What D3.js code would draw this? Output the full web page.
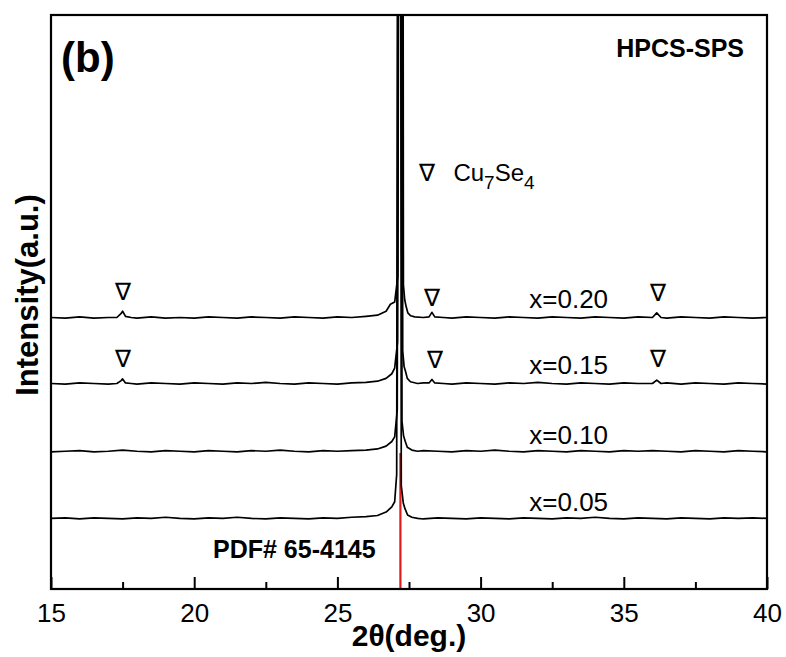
<!DOCTYPE html>
<html>
<head>
  <meta charset="utf-8">
  <title>XRD HPCS-SPS</title>
  <script src="https://cdn.jsdelivr.net/npm/d3@7"></script>
  <style>
    body { margin: 0; background: #fff; }
    text { font-family: Arial, "Liberation Sans", sans-serif; }
  </style>
</head>
<body>
<div id="chart"></div>
<script>
  // compositions, stacked bottom to top
  var samples = ['x=0.05', 'x=0.10', 'x=0.15', 'x=0.20'];
  var offsets = [120, 237, 355, 470];

  // [2theta, counts] (main peak runs off the top)
  var x005 = [[15,3],[15.5,4],[16,2],[16.5,4],[17,3],[17.5,2],[18,4],[18.5,3],[19,5],[19.5,3],[20,2],[20.5,4],[21,3],[21.5,5],[22,3],[22.5,2],[23,4],[23.5,3],[24,2],[24.5,4],[25,3],[25.5,5],[26,6],[26.4,8],[26.7,14],[26.9,23],[27.0,32],[27.07,80],[27.1,1100],[27.21,1100],[27.23,60],[27.3,30],[27.36,20],[27.45,9],[27.6,5],[27.8,3],[28,2],[28.5,4],[29,3],[29.5,2],[30,4],[30.5,3],[31,2],[31.5,4],[32,3],[32.5,2],[33,4],[33.5,3],[34,5],[34.5,3],[35,2],[35.5,4],[36,3],[36.5,2],[37,4],[37.5,3],[38,2],[38.5,4],[39,3],[39.5,4],[40,3]];
  var x010 = [[15,2],[15.5,3],[16,4],[16.5,2],[17,3],[17.5,5],[18,3],[18.5,2],[19,4],[19.5,3],[20,2],[20.5,4],[21,3],[21.5,2],[22,4],[22.5,3],[23,5],[23.5,3],[24,2],[24.5,4],[25,3],[25.5,4],[26,5],[26.4,7],[26.7,12],[26.9,20],[27.0,28],[27.09,75],[27.12,1100],[27.235,1100],[27.255,55],[27.31,30],[27.37,20],[27.44,10],[27.6,5],[27.8,3],[28,4],[28.5,3],[29,2],[29.5,4],[30,3],[30.5,5],[31,3],[31.5,2],[32,4],[32.5,3],[33,2],[33.5,4],[34,3],[34.5,2],[35,4],[35.5,3],[36,4],[36.5,3],[37,2],[37.5,4],[38,3],[38.5,2],[39,4],[39.5,3],[40,2]];
  var x015 = [[15,3],[15.5,2],[16,4],[16.5,3],[17,2],[17.3,3],[17.45,8],[17.5,11],[17.6,4],[17.8,3],[18,2],[18.5,4],[19,3],[19.5,2],[20,4],[20.5,3],[21,2],[21.5,4],[22,3],[22.5,5],[23,3],[23.5,2],[24,4],[24.5,3],[25,2],[25.5,4],[26,5],[26.4,7],[26.7,12],[26.9,20],[27.0,30],[27.1,75],[27.14,1100],[27.26,1100],[27.28,60],[27.33,32],[27.38,24],[27.44,12],[27.55,6],[27.8,3],[28,4],[28.2,4],[28.3,10],[28.4,4],[28.7,3],[29,2],[29.5,4],[30,3],[30.5,2],[31,4],[31.5,3],[32,5],[32.5,3],[33,2],[33.5,4],[34,3],[34.5,2],[35,4],[35.5,3],[36,3],[36.15,9],[36.3,3],[36.5,4],[37,2],[37.5,4],[38,3],[38.5,2],[39,4],[39.5,3],[40,2]];
  var x020 = [[15,3],[15.5,2],[16,4],[16.5,2],[17,3],[17.3,3],[17.45,10],[17.5,14],[17.6,5],[17.8,3],[18,2],[18.5,4],[19,2],[19.5,3],[20,2],[20.5,4],[21,3],[21.5,2],[22,4],[22.5,3],[23,2],[23.5,4],[24,3],[24.5,2],[25,4],[25.5,3],[26,5],[26.4,7],[26.7,14],[26.85,26],[27.0,30],[27.11,75],[27.16,1100],[27.285,1100],[27.305,60],[27.35,34],[27.4,22],[27.46,11],[27.56,6],[27.7,4],[28,3],[28.2,4],[28.3,12],[28.4,4],[28.7,3],[29,2],[29.5,4],[30,3],[30.5,2],[31,4],[31.5,3],[32,2],[32.5,4],[33,3],[33.5,2],[34,4],[34.5,3],[35,2],[35.5,4],[36,3],[36.15,11],[36.3,3],[36.5,2],[37,4],[37.5,3],[38,2],[38.5,4],[39,3],[39.5,2],[40,3]];
  var patterns = [x005, x010, x015, x020];

  // Cu7Se4 markers: [2theta, height above baseline], per stacked row
  var markers = [
    {row: 3, pts: [[17.5, 48], [28.3, 37], [36.2, 46]]},
    {row: 2, pts: [[17.5, 46], [28.4, 45], [36.2, 47]]}
  ];
  // PDF# 65-4145 stick
  var pdfSticks = [[27.2, 237]];
  var xMajor = [15, 20, 25, 30, 35, 40];
  var xMinor = [17.5, 22.5, 27.5, 32.5, 37.5];

  var W = 786, H = 657;
  var m = {left: 51, right: 19, top: 15, bottom: 68};
  var pw = W - m.left - m.right, ph = H - m.top - m.bottom;

  var svg = d3.select('#chart').append('svg')
      .attr('width', W).attr('height', H);

  var x = d3.scaleLinear().domain([15, 40]).range([0, pw]);
  var y = d3.scaleLinear().domain([0, 1000]).range([ph, 0]);

  var g = svg.append('g').attr('transform', 'translate(' + m.left + ',' + m.top + ')');

  g.append('clipPath').attr('id', 'clip')
    .append('rect').attr('width', pw).attr('height', ph);

  var line = d3.line()
      .x(function(d){ return x(d[0]); })
      .y(function(d){ return y(d[1]); });

  var plot = g.append('g').attr('clip-path', 'url(#clip)');

  // red reference stick
  plot.selectAll('line.pdf')
      .data(pdfSticks)
      .enter().append('line')
      .attr('x1', function(d){ return x(d[0]); })
      .attr('x2', function(d){ return x(d[0]); })
      .attr('y1', y(0))
      .attr('y2', function(d){ return y(d[1]); })
      .attr('stroke', '#e31a1c')
      .attr('stroke-width', 2.2);

  plot.selectAll('path.xrd')
      .data(patterns)
      .enter().append('path')
      .attr('class', 'xrd')
      .attr('fill', 'none')
      .attr('stroke', '#000')
      .attr('stroke-width', 1.7)
      .attr('stroke-linejoin', 'round')
      .attr('d', function(d, i){
        return line(d.map(function(p){ return [p[0], p[1] + offsets[i]]; }));
      });

  // sample labels
  g.selectAll('text.sample')
      .data(samples)
      .enter().append('text')
      .attr('x', x(31.7))
      .attr('y', function(d, i){ return y(offsets[i] + (i < 2 ? 16 : 19)); })
      .attr('font-size', 26)
      .text(function(d){ return d; });

  // triangles
  markers.forEach(function(mk){
    g.selectAll(null)
      .data(mk.pts)
      .enter().append('text')
      .attr('x', function(d){ return x(d[0]); })
      .attr('y', function(d){ return y(offsets[mk.row] + d[1]); })
      .attr('text-anchor', 'middle')
      .attr('dominant-baseline', 'central')
      .attr('font-size', 24)
      .text('\u2207');
  });

  // legend
  g.append('text')
      .attr('x', x(27.85)).attr('y', 157)
      .attr('dominant-baseline', 'central')
      .attr('font-size', 24)
      .text('\u2207');
  var leg = g.append('text').attr('x', x(29.05)).attr('y', 166).attr('font-size', 24);
  leg.append('tspan').text('Cu');
  leg.append('tspan').attr('dy', 8).attr('font-size', 19).text('7');
  leg.append('tspan').attr('dy', -8).text('Se');
  leg.append('tspan').attr('dy', 8).attr('font-size', 19).text('4');

  g.append('text')
      .attr('x', 162).attr('y', ph - 31)
      .attr('font-size', 25).attr('font-weight', 'bold')
      .text('PDF# 65-4145');

  g.append('text')
      .attr('x', 10).attr('y', 57)
      .attr('font-size', 42).attr('font-weight', 'bold')
      .text('(b)');

  g.append('text')
      .attr('x', pw - 23).attr('y', 42)
      .attr('text-anchor', 'end')
      .attr('font-size', 25).attr('font-weight', 'bold')
      .text('HPCS-SPS');

  // axes, ticks pointing inward
  var axMajor = g.append('g').attr('transform', 'translate(0,' + ph + ')')
      .call(d3.axisBottom(x).tickValues(xMajor).tickSize(-12).tickPadding(15));
  var axMinor = g.append('g').attr('transform', 'translate(0,' + ph + ')')
      .call(d3.axisBottom(x).tickValues(xMinor).tickSize(-7).tickFormat(''));
  [axMajor, axMinor].forEach(function(a){
    a.select('.domain').remove();
    a.selectAll('line').attr('stroke', '#000').attr('stroke-width', 2);
  });
  axMajor.selectAll('text')
      .attr('font-size', 26)
      .attr('font-family', 'Arial, "Liberation Sans", sans-serif')
      .attr('fill', '#000');

  g.append('rect')
      .attr('width', pw).attr('height', ph)
      .attr('fill', 'none')
      .attr('stroke', '#000')
      .attr('stroke-width', 2.2);

  svg.append('text')
      .attr('x', m.left + pw / 2).attr('y', 646)
      .attr('text-anchor', 'middle')
      .attr('font-size', 30).attr('font-weight', 'bold')
      .text('2\u03b8(deg.)');

  svg.append('text')
      .attr('transform', 'translate(38,' + (m.top + ph / 2 - 7) + ') rotate(-90)')
      .attr('text-anchor', 'middle')
      .attr('font-size', 31).attr('font-weight', 'bold')
      .text('Intensity(a.u.)');
</script>
</body>
</html>
